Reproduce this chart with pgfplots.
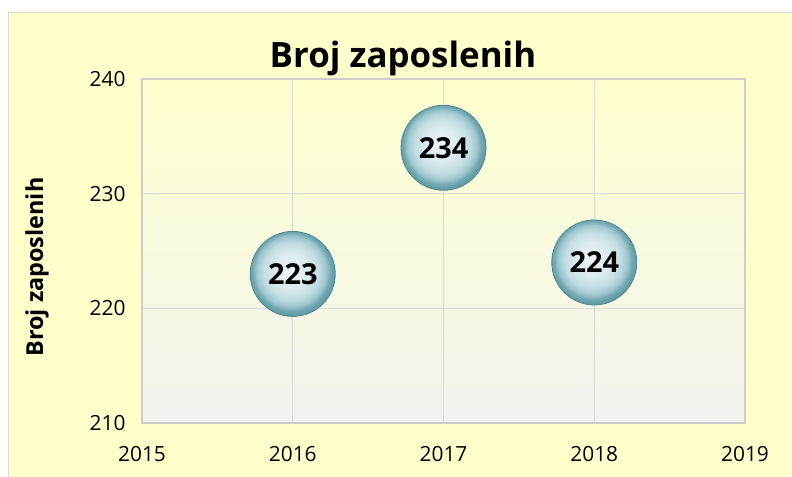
\documentclass[border=0pt]{standalone}
\usepackage{fontspec}
\setmainfont{Open Sans}
\usepackage{pgfplots}
\pgfplotsset{compat=1.18}
\definecolor{bgyellow}{RGB}{255,255,204}
\definecolor{framegray}{RGB}{217,217,217}
\definecolor{axisgray}{RGB}{205,205,205}
\definecolor{plottop}{RGB}{255,255,206}
\definecolor{plotbot}{RGB}{242,242,240}
\definecolor{rimc}{RGB}{75,135,145}
\pgfdeclareradialshading{myballshade}{\pgfpoint{-1.5bp}{2.5bp}}{%
  rgb(0bp)=(0.93,0.965,0.97);
  rgb(10bp)=(0.86,0.92,0.935);
  rgb(16.5bp)=(0.76,0.865,0.885);
  rgb(20.5bp)=(0.62,0.78,0.81);
  rgb(23bp)=(0.45,0.66,0.70);
  rgb(25bp)=(0.38,0.62,0.66);
  rgb(50bp)=(0.38,0.62,0.66)}
\pgfdeclareplotmark{myball}{%
  \pgfpathcircle{\pgfpointorigin}{\pgfplotmarksize}%
  \pgfshadepath{myballshade}{0}%
  \pgfusepath{discard}%
  \pgfsetlinewidth{0.8bp}%
  \pgfsetstrokecolor{rimc}%
  \pgfpathcircle{\pgfpointorigin}{\pgfplotmarksize}%
  \pgfusepathqstroke}
\begin{document}
\begin{tikzpicture}[x=1bp,y=1bp]
\useasboundingbox (0,0) rectangle (792,477);
\fill[white] (0,0) rectangle (792,477);
\fill[bgyellow] (8,0) rectangle (792,465);
\draw[framegray, line width=1.5bp] (8.5,0) -- (8.5,464.5) -- (792,464.5);
\begin{axis}[
  at={(142bp,54bp)}, anchor=south west,
  scale only axis, width=603bp, height=344bp,
  xmin=2015, xmax=2019, ymin=210, ymax=240,
  xtick={2015,2016,2017,2018,2019},
  ytick={210,220,230,240},
  grid=major,
  grid style={framegray, line width=1.2bp},
  axis line style={axisgray, line width=1.5bp},
  major tick length=0pt,
  axis background/.style={top color=plottop, bottom color=plotbot},
  tick label style={font=\fontsize{21}{24}\selectfont, black},
  /pgf/number format/1000 sep={},
  /pgf/number format/assume math mode=true,
  xticklabel style={yshift=-20bp},
  yticklabel style={xshift=-13bp},
  clip=false,
]
\addplot[only marks, mark=myball, mark size=42.5bp,
  point meta=y,
  nodes near coords,
  every node near coord/.append style={anchor=center, black,
    font=\bfseries\fontsize{29}{32}\selectfont},
] table {
x y
2016 223
2017 234
2018 224
};
\end{axis}
\node[font=\bfseries\fontsize{35}{40}\selectfont, anchor=base] at (403,409) {Broj zaposlenih};
\node[font=\bfseries\fontsize{23.5}{28}\selectfont, rotate=90] at (37,210) {Broj zaposlenih};
\end{tikzpicture}
\end{document}
